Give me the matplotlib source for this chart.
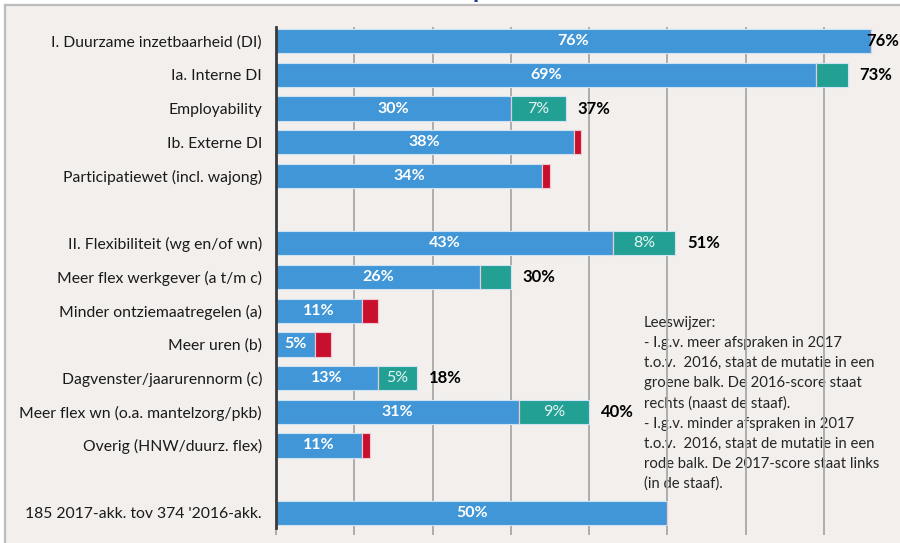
import matplotlib.pyplot as plt
from matplotlib.patches import Rectangle
from matplotlib.lines import Line2D

plt.rcParams['font.family'] = ['Lato', 'DejaVu Sans']

# categories per group (groups are separated by an empty row)
groups = [
    ["I. Duurzame inzetbaarheid (DI)", "Ia. Interne DI", "Employability",
     "Ib. Externe DI", "Participatiewet (incl. wajong)"],
    ["II. Flexibiliteit (wg en/of wn)", "Meer flex werkgever (a t/m c)",
     "Minder ontziemaatregelen (a)", "Meer uren (b)", "Dagvenster/jaarurennorm (c)",
     "Meer flex wn (o.a. mantelzorg/pkb)", "Overig (HNW/duurz. flex)"],
    ["185 2017-akk. tov 374 '2016-akk."],
]

# blue = score (2017 or 2016), green = increase, red = decrease
base = [76, 69, 30, 38, 34, 43, 26, 11, 5, 13, 31, 11, 50]
up = [0, 4, 7, 0, 0, 8, 4, 0, 0, 5, 9, 0, 0]
down = [0, 0, 0, 1, 1, 0, 0, 2, 2, 0, 0, 1, 0]
right_score = [76, 73, 37, None, None, 51, 30, None, None, 18, 40, None, None]

legend_text = ("Leeswijzer:\n"
               "- I.g.v. meer afspraken in 2017\n"
               "t.o.v.  2016, staat de mutatie in een\n"
               "groene balk. De 2016-score staat\n"
               "rechts (naast de staaf).\n"
               "- I.g.v. minder afspraken in 2017\n"
               "t.o.v.  2016, staat de mutatie in een\n"
               "rode balk. De 2017-score staat links\n"
               "(in de staaf).")

blue = '#4096d6'
green = '#23a094'
red = '#c8102e'
bg = '#f2efec'

categories = []
rows = []
pos = 0
for g in groups:
    for c in g:
        categories.append(c)
        rows.append(pos)
        pos += 1
    pos += 1

fig = plt.figure(figsize=(9, 5.43), dpi=100, facecolor='white')
# panel background with the thin frame at top/left
x0, y1 = 5 / 900, 1 - 5 / 543
fig.patches.append(Rectangle((x0, 0), 1 - x0, y1, transform=fig.transFigure,
                             facecolor=bg, edgecolor='none', zorder=-5))
fig.add_artist(Line2D([x0, 1], [y1, y1], color='#bdbdbd', lw=1.6, transform=fig.transFigure))
fig.add_artist(Line2D([x0, x0], [0, y1], color='#bdbdbd', lw=1.6, transform=fig.transFigure))
# cropped title (only descender visible)
fig.text(473 / 900, (543 + 1.5) / 543, "p", color='#1f3a93', fontsize=18,
         fontweight='bold', va='baseline', ha='left')

ax = fig.add_axes([276 / 900, 15 / 543, 1 - 276 / 900, 501 / 543])
ax.set_facecolor('none')

ax.barh(rows, base, height=0.72, color=blue, edgecolor='#cfe3f3', lw=0.8, zorder=2)
ax.barh(rows, up, left=base, height=0.72, color=green, edgecolor='#cfe3f3', lw=0.8, zorder=2)
ax.barh(rows, down, left=base, height=0.72, color=red, edgecolor='#f0c8cf', lw=0.8, zorder=2)

for r, b, u, s in zip(rows, base, up, right_score):
    ax.text(b / 2, r, f"{b}%", color='white', fontsize=11.5, fontweight='bold',
            ha='center', va='center', zorder=3)
    if u >= 5:
        ax.text(b + u / 2, r, f"{u}%", color='#e6f3f1', fontsize=11.5,
                ha='center', va='center', zorder=3)
    if s is not None:
        # keep the label inside the figure for the longest bar
        ax.text(min(b + u + 1.5, 75.4), r, f"{s}%", color='black', fontsize=12,
                fontweight='bold', ha='left', va='center', zorder=3)

ax.text(47.0, 8.15, legend_text, fontsize=10.7, color='#262626', ha='left', va='top',
        linespacing=1.55, zorder=0.4)

ax.set_xlim(0, 79.7)
ax.set_ylim(14.45, -0.42)
ax.set_xticks(range(0, 80, 10))
ax.set_xticklabels([])
ax.xaxis.grid(True, color='#a8a8a8', lw=1.3, zorder=0.5)
ax.set_axisbelow(True)
ax.tick_params(axis='x', direction='out', length=5, width=1.3, color='#a8a8a8')
ax.set_yticks(rows)
ax.set_yticklabels(categories, fontsize=11.3, color='#1a1a1a')
ax.tick_params(axis='y', length=0, pad=10)

for side in ['top', 'right', 'bottom']:
    ax.spines[side].set_visible(False)
ax.spines['left'].set_color('#3a3a3a')
ax.spines['left'].set_linewidth(2)
ax.spines['left'].set_zorder(4)

fig.savefig('out.png', dpi=100, facecolor=fig.get_facecolor())
